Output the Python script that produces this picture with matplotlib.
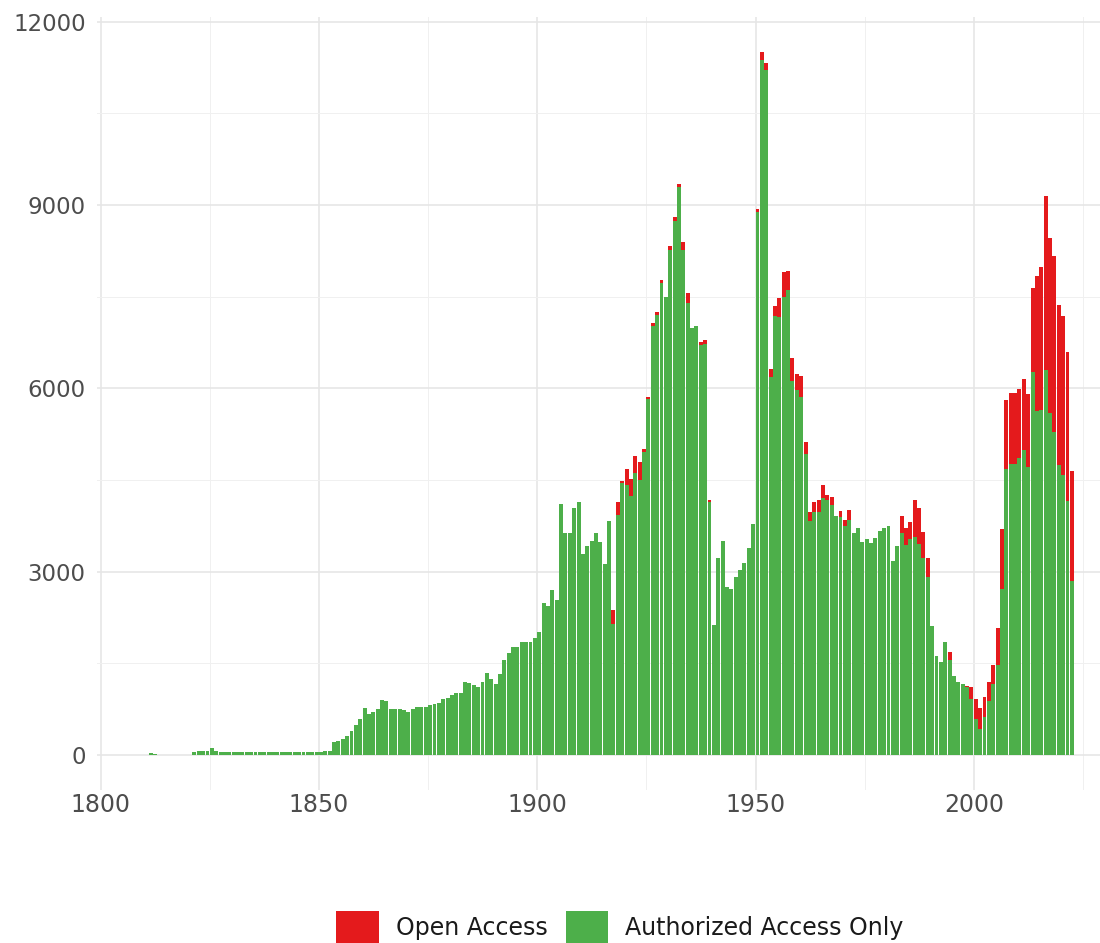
import numpy as np
import pandas as pd
import matplotlib
matplotlib.use("Agg")
import matplotlib.pyplot as plt
from matplotlib.patches import Patch

# publications per year, "Authorized Access Only" part (green)
early_years = [1811, 1812]
early_authorized = [40, 20]

years = np.arange(1821, 2023)
authorized = [
    # 1821-1852
    55, 70, 70, 60, 110, 65, 55, 55, 55, 55,
    55, 55, 55, 55, 55, 55, 55, 55, 55, 55,
    55, 55, 55, 55, 55, 55, 55, 55, 55, 55,
    60, 65,
    # 1853-1859
    218, 225, 265, 320, 400, 490, 590,
    770, 675, 700, 760, 900, 890, 760, 750, 750, 745,
    710, 750, 780, 780, 790, 820, 840, 850, 910, 930,
    980, 1020, 1010, 1200, 1185, 1145, 1120, 1200, 1335, 1240,
    1160, 1325, 1555, 1675, 1775, 1775, 1855, 1855, 1855, 1910,
    2020, 2480, 2440, 2700, 2535, 4110, 3635, 3635, 4045, 4140,
    3290, 3415, 3510, 3635, 3490, 3130, 3825, 2150, 3930, 4450,
    4425, 4235, 4615, 4500, 4960, 5820, 7020, 7200, 7720, 7500,
    8270, 8740, 9290, 8260, 7400, 6985, 7025, 6710, 6730, 4140,
    2130, 3225, 3500, 2755, 2715, 2915, 3030, 3150, 3385, 3775,
    8880, 11370, 11210, 6180, 7180, 7165, 7495, 7610, 6125, 5965,
    5850, 4925, 3830, 3970, 3970, 4210, 4175, 4095, 3915, 3900,
    3740, 3845, 3630, 3710, 3490, 3530, 3465, 3545, 3665, 3720,
    3750, 3180, 3420, 3630, 3440, 3530, 3575, 3455, 3220, 2920,
    2110, 1620, 1530, 1855, 1560, 1300, 1200, 1170, 1110, 920,
    590, 420, 615, 890, 1165, 1470, 2725, 4680, 4770, 4760,
    4865, 4985, 4710, 6270, 5625, 5640, 6300, 5595, 5290, 4740,
    4590, 4160, 2845,
]

# "Open Access" part (red), only the years where it shows
oa_years = [1917, 1918, 1919, 1920, 1921, 1922, 1923, 1924, 1925, 1926,
            1927, 1928, 1930, 1931, 1932, 1933, 1934, 1937, 1938, 1939,
            1950, 1951, 1952, 1953, 1954, 1955, 1956, 1957, 1958, 1959,
            1960, 1961, 1962, 1963, 1964, 1965, 1966, 1967, 1969, 1970,
            1971, 1983, 1984, 1985, 1986, 1987, 1988, 1989, 1994, 1998,
            1999, 2000, 2001, 2002, 2003, 2004, 2005, 2006, 2007, 2008,
            2009, 2010, 2011, 2012, 2013, 2014, 2015, 2016, 2017, 2018,
            2019, 2020, 2021, 2022]
oa_values = [220, 210, 35, 250, 285, 285, 300, 45, 40, 55,
             50, 50, 55, 70, 45, 140, 166, 40, 60, 25,
             60, 130, 120, 140, 160, 305, 405, 315, 365, 275,
             350, 195, 140, 170, 195, 210, 80, 135, 85, 105,
             165, 285, 270, 290, 590, 585, 435, 300, 130, 20,
             190, 320, 350, 340, 310, 305, 615, 975, 1130, 1160,
             1170, 1125, 1160, 1190, 1370, 2215, 2340, 2840, 2870, 2870,
             2625, 2595, 2430, 1805]

df = pd.DataFrame({"year": list(early_years) + list(years),
                   "authorized": list(early_authorized) + list(authorized)})
oa = pd.Series(oa_values, index=oa_years)
df["open"] = df["year"].map(oa).fillna(0)

GREEN = "#4DAF4A"
RED = "#E41A1C"

fig = plt.figure(figsize=(11, 9.43), dpi=100)
ax = fig.add_axes([0.088, 0.162, 0.912, 0.82])

ax.bar(df["year"], df["authorized"], width=0.9, align="edge",
       color=GREEN, linewidth=0, zorder=3)
ax.bar(df["year"], df["open"], bottom=df["authorized"], width=0.9,
       align="edge", color=RED, linewidth=0, zorder=3)

ax.set_xlim(1799.1, 2028.9)
ax.set_ylim(-575, 12075)
ax.set_xticks([1800, 1850, 1900, 1950, 2000])
ax.set_xticks([1825, 1875, 1925, 1975, 2025], minor=True)
ax.set_yticks([0, 3000, 6000, 9000, 12000])
ax.set_yticks([1500, 4500, 7500, 10500], minor=True)

ax.grid(which="major", color="#E6E6E6", linewidth=1.2, zorder=0)
ax.grid(which="minor", color="#F0F0F0", linewidth=0.7, zorder=0)
for s in ax.spines.values():
    s.set_visible(False)
ax.tick_params(which="both", length=0)
ax.tick_params(axis="x", labelsize=17, labelcolor="#4D4D4D", pad=2)
ax.tick_params(axis="y", labelsize=16.5, labelcolor="#4D4D4D", pad=8)

handles = [Patch(facecolor=RED, edgecolor="none"),
           Patch(facecolor=GREEN, edgecolor="none")]
fig.legend(handles, ["Open Access", "Authorized Access Only"],
           loc="center", bbox_to_anchor=(0.5636, 0.0165), ncol=2,
           frameon=False, fontsize=17, handlelength=1.82, handleheight=1.82,
           handletextpad=0.72, columnspacing=0.75, borderpad=0,
           labelcolor="#1A1A1A")

fig.savefig("out.png", dpi=100, facecolor="white")
